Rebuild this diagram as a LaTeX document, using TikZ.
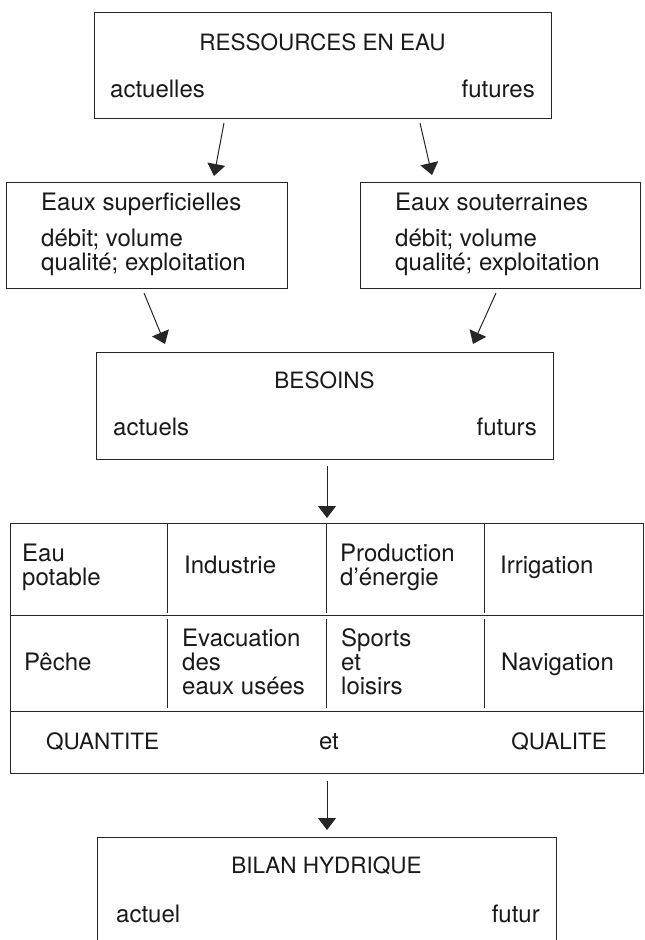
\documentclass[tikz,border=0pt]{standalone}
\usepackage{fontspec}
\setmainfont{TeX Gyre Heros}
\usetikzlibrary{arrows.meta}
\begin{document}
\begin{tikzpicture}[x=1pt,y=-1pt,
  box/.style={draw=black!85, line width=1pt, inner sep=0pt, anchor=north west},
  openbox/.style={inner sep=0pt, anchor=north west},
  txt/.style={inner sep=0pt, font=\fontsize{22.5}{24}\selectfont, text=black!90, align=left},
  ltxt/.style={txt, font=\fontsize{24}{24}\selectfont},
  arr/.style={draw=black!85, line width=1pt, -{Triangle[length=12pt,width=18pt]}},
  rule/.style={draw=black!85, line width=1pt}]
\useasboundingbox (0,0) rectangle (645,940);

% top box
\node[box, minimum width=457pt, minimum height=106pt] (res) at (94,12) {};
\node[txt, anchor=base] (resT) at (322.5,50) {RESSOURCES EN EAU};
\node[ltxt, anchor=base west] (resA) at (110,97) {actuelles};
\node[ltxt, anchor=base east] (resF) at (535,97) {futures};

% middle boxes
\node[box, minimum width=281pt, minimum height=106pt] (sup) at (6,182) {};
\node[ltxt, anchor=base west] (supT) at (41,210) {Eaux superficielles};
\node[ltxt, anchor=base west] (supD) at (41,270) {débit; volume\\qualité; exploitation};

\node[box, minimum width=280pt, minimum height=106pt] (sou) at (360,182) {};
\node[ltxt, anchor=base west] (souT) at (395,210) {Eaux souterraines};
\node[ltxt, anchor=base west] (souD) at (395,270) {débit; volume\\qualité; exploitation};

% besoins
\node[box, minimum width=457pt, minimum height=107pt] (bes) at (96,352) {};
\node[txt, anchor=base] (besT) at (324.5,388) {BESOINS};
\node[ltxt, anchor=base west] (besA) at (113,435) {actuels};
\node[ltxt, anchor=base east] (besF) at (537,435) {futurs};

% table
\node[box, minimum width=633pt, minimum height=250pt] (tab) at (10,523) {};
\draw[rule] ([yshift=-92pt]tab.north west) -- ([yshift=-92pt]tab.north east);
\draw[rule] ([yshift=-188pt]tab.north west) -- ([yshift=-188pt]tab.north east);
\foreach \dx in {157,316,474}{
  \draw[rule] ([xshift=\dx pt]tab.north west) -- ++(0,90);
  \draw[rule] ([xshift=\dx pt,yshift=-96pt]tab.north west) -- ++(0,89);
}
\node[ltxt, anchor=base west] (c11) at (22,585) {Eau\\potable};
\node[ltxt, anchor=base west] (c12) at (184,573) {Industrie};
\node[ltxt, anchor=base west] (c13) at (340,585) {Production\\d’énergie};
\node[ltxt, anchor=base west] (c14) at (500,573) {Irrigation};
\node[ltxt, anchor=base west] (c21) at (24,670) {Pêche};
\node[ltxt, anchor=base west] (c22) at (182,694) {Evacuation\\des\\eaux usées};
\node[ltxt, anchor=base west] (c23) at (341,694) {Sports\\et\\loisirs};
\node[ltxt, anchor=base west] (c24) at (501,670) {Navigation};
\node[txt, anchor=base west] (q1) at (46,749) {QUANTITE};
\node[ltxt, anchor=base] (q2) at (329,749) {et};
\node[txt, anchor=base east] (q3) at (607,749) {QUALITE};

% bilan
\node[openbox, minimum width=459pt, minimum height=110pt] (bil) at (97,837) {};
\draw[rule] (bil.south west) |- (bil.north east) -- (bil.south east);
\node[txt, anchor=base] (bilT) at (326.5,873) {BILAN HYDRIQUE};
\node[ltxt, anchor=base west] (bilA) at (116,922) {actuel};
\node[ltxt, anchor=base east] (bilF) at (540,922) {futur};

% arrows
\draw[arr] ([shift={(130pt,-4pt)}]res.south west) -- ([shift={(208pt,6pt)}]sup.north west);
\draw[arr] ([shift={(326pt,-4pt)}]res.south west) -- ([shift={(72pt,7pt)}]sou.north west);
\draw[arr] ([shift={(138pt,-4pt)}]sup.south west) -- ([shift={(69pt,8pt)}]bes.north west);
\draw[arr] ([shift={(136pt,-4pt)}]sou.south west) -- ([shift={(377pt,8pt)}]bes.north west);
\draw[arr] ([shift={(231pt,-6pt)}]bes.south west) -- ([shift={(317pt,5pt)}]tab.north west);
\draw[arr] ([shift={(317pt,-7pt)}]tab.south west) -- ([shift={(230pt,7pt)}]bil.north west);
\end{tikzpicture}
\end{document}
